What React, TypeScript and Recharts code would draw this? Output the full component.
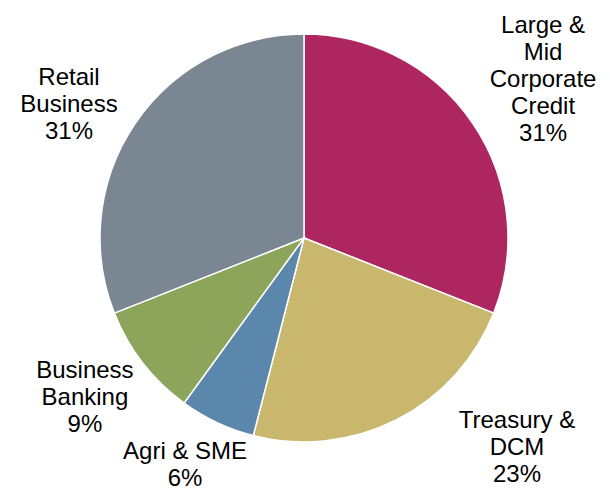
import { PieChart, Pie, Cell } from "recharts";

const segments = [
  "Large & Mid Corporate Credit",
  "Treasury & DCM",
  "Agri & SME",
  "Business Banking",
  "Retail Business",
];
const shares = [31, 23, 6, 9, 31];
const labelLines = [
  ["Large &", "Mid", "Corporate", "Credit"],
  ["Treasury &", "DCM"],
  ["Agri & SME"],
  ["Business", "Banking"],
  ["Retail", "Business"],
];

const colors = ["#AE2660", "#C9B76E", "#5C87AD", "#8CA55A", "#7A8792"];
// label anchor (center x, first baseline) relative to pie center, in radii
const labelAnchor = [
  [1.172, -1.005],
  [1.044, 0.931],
  [-0.583, 1.083],
  [-1.074, 0.686],
  [-1.152, -0.75],
];

const data = segments.map((name, i) => ({ name, value: shares[i] }));

const LINE_H = 27;

const renderLabel = (props: any) => {
  const { cx, cy, outerRadius, index } = props;
  const [fx, fy] = labelAnchor[index];
  const x = cx + fx * outerRadius;
  const y = cy + fy * outerRadius;
  const lines = [...labelLines[index], `${shares[index]}%`];
  return (
    <text
      x={x}
      y={y}
      textAnchor="middle"
      fill="#000"
      fontSize={24}
      fontFamily="'Liberation Sans', Arial, sans-serif"
    >
      {lines.map((l, k) => (
        <tspan key={k} x={x} dy={k === 0 ? 0 : LINE_H}>
          {l}
        </tspan>
      ))}
    </text>
  );
};

export default function App() {
  return (
    <div
      style={{
        position: "absolute",
        left: 0,
        top: 0,
        width: 610,
        height: 491,
        background: "#fff",
      }}
    >
      <PieChart
        width={610}
        height={491}
        margin={{ top: 0, right: 0, bottom: 0, left: 0 }}
      >
        <Pie
          data={data}
          dataKey="value"
          nameKey="name"
          cx={304}
          cy={238}
          outerRadius={204}
          startAngle={90}
          endAngle={-270}
          stroke="#fff"
          strokeWidth={1.5}
          label={renderLabel}
          labelLine={false}
          isAnimationActive={false}
        >
          {data.map((d, i) => (
            <Cell key={d.name} fill={colors[i]} />
          ))}
        </Pie>
      </PieChart>
    </div>
  );
}
